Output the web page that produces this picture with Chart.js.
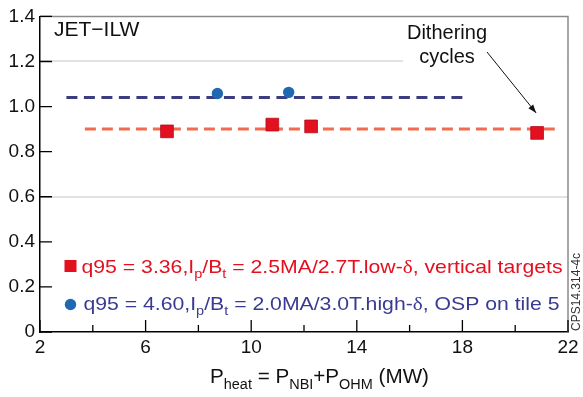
<!DOCTYPE html>
<html>
<head>
<meta charset="utf-8">
<script src="https://cdn.jsdelivr.net/npm/chart.js@4/dist/chart.umd.min.js"></script>
<style>
  html, body { margin: 0; padding: 0; background: #fff; }
  #wrap { width: 583px; height: 397px; }
</style>
</head>
<body>
<div id="wrap"><canvas id="chart" width="583" height="397"></canvas></div>
<script>
// values
const lowDeltaX = [6.81, 10.8, 12.27, 20.83];
const lowDeltaY = [0.89, 0.92, 0.912, 0.883];
const highDeltaX = [8.72, 11.42];
const highDeltaY = [1.058, 1.063];
const lowFitX = [3.7, 21.5];
const lowFitY = [0.9, 0.9];
const highFitX = [3.0, 18.05];
const highFitY = [1.04, 1.04];

const xLabelTicks = [2, 6, 10, 14, 18, 22];
const gridLevels = [0.6, 1.2];

const FONT = "'Liberation Sans', Arial, sans-serif";
const RED = "#e3101f";
const NAVY = "#3a3a94";
const BLUE = "#1f69b3";

const toPoints = (xs, ys) => xs.map((x, i) => ({ x: x, y: ys[i] }));

// text pieces: [text, kind] kind: n = normal, s = subscript, g = greek
const lowLabel = [["q95 = 3.36,I", "n"], ["p", "s"], ["/B", "n"], ["t", "s"],
  [" = 2.5MA/2.7T.low-", "n"], ["\u03b4", "g"], [", vertical targets", "n"]];
const highLabel = [["q95 = 4.60,I", "n"], ["p", "s"], ["/B", "n"], ["t", "s"],
  [" = 2.0MA/3.0T.high-", "n"], ["\u03b4", "g"], [", OSP on tile 5", "n"]];
const xTitle = [["P", "n"], ["heat", "s"], [" = P", "n"], ["NBI", "s"], ["+P", "n"], ["OHM", "s"], [" (MW)", "n"]];

function fontFor(kind, size) {
  if (kind === "s") return Math.round(size * 0.7) + "px " + FONT;
  if (kind === "g") return size + "px 'Liberation Serif', 'DejaVu Serif', serif";
  return size + "px " + FONT;
}
function richWidth(ctx, parts, size) {
  let w = 0;
  parts.forEach(p => {
    ctx.font = fontFor(p[1], size);
    w += ctx.measureText(p[0]).width;
  });
  return w;
}
// draws the pieces, stretched sideways to fill `width` when given
function drawRich(ctx, parts, x, y, size, color, width) {
  const natural = richWidth(ctx, parts, size);
  const sx = width ? width / natural : 1;
  ctx.save();
  ctx.translate(x, y);
  ctx.scale(sx, 1);
  ctx.fillStyle = color;
  ctx.textBaseline = "alphabetic";
  ctx.textAlign = "left";
  let cx = 0;
  parts.forEach(p => {
    ctx.font = fontFor(p[1], size);
    const dy = p[1] === "s" ? size * 0.28 : 0;
    ctx.fillText(p[0], cx, dy);
    cx += ctx.measureText(p[0]).width;
  });
  ctx.restore();
}

const decorations = {
  id: "decorations",
  afterDraw(chart) {
    const ctx = chart.ctx;
    const a = chart.chartArea;
    const xs = chart.scales.x, ys = chart.scales.y;
    ctx.save();

    // white box behind the annotation hides the grid line there
    ctx.fillStyle = "#fff";
    ctx.fillRect(403, 45, a.right - 404, 30);

    // top and right frame
    ctx.strokeStyle = "#8a8a8a";
    ctx.lineWidth = 1.5;
    ctx.beginPath();
    ctx.moveTo(a.left, a.top); ctx.lineTo(a.right, a.top); ctx.lineTo(a.right, a.bottom);
    ctx.stroke();

    // inward ticks
    ctx.strokeStyle = "#000";
    ctx.lineWidth = 1.3;
    ctx.beginPath();
    xs.ticks.forEach(t => {
      const px = xs.getPixelForValue(t.value);
      const len = xLabelTicks.includes(t.value) ? 12 : 7;
      ctx.moveTo(px, a.bottom); ctx.lineTo(px, a.bottom - len);
    });
    ys.ticks.forEach(t => {
      const py = ys.getPixelForValue(t.value);
      ctx.moveTo(a.left, py); ctx.lineTo(a.left + 12, py);
    });
    ctx.stroke();

    // panel label
    ctx.fillStyle = "#111";
    ctx.font = "21px " + FONT;
    ctx.textAlign = "left";
    ctx.textBaseline = "alphabetic";
    ctx.fillText("JET\u2212ILW", 54, 36);

    // annotation
    ctx.font = "20px " + FONT;
    ctx.textAlign = "center";
    ctx.fillText("Dithering", 447, 39);
    ctx.fillText("cycles", 447, 63);
    const tx = xs.getPixelForValue(lowDeltaX[3]) - 1, ty = ys.getPixelForValue(lowDeltaY[3]) - 20;
    ctx.strokeStyle = "#111";
    ctx.lineWidth = 1;
    ctx.beginPath();
    ctx.moveTo(487, 52); ctx.lineTo(tx, ty);
    ctx.stroke();
    const ang = Math.atan2(ty - 52, tx - 487);
    ctx.beginPath();
    ctx.moveTo(tx, ty);
    ctx.lineTo(tx - 9 * Math.cos(ang - 0.35), ty - 9 * Math.sin(ang - 0.35));
    ctx.lineTo(tx - 9 * Math.cos(ang + 0.35), ty - 9 * Math.sin(ang + 0.35));
    ctx.closePath();
    ctx.fillStyle = "#111";
    ctx.fill();

    // legend
    ctx.fillStyle = RED;
    ctx.fillRect(64.5, 260, 12, 12);
    drawRich(ctx, lowLabel, 81.5, 273, 19, RED, 481);
    ctx.fillStyle = BLUE;
    ctx.beginPath();
    ctx.arc(70.5, 304.5, 5.7, 0, Math.PI * 2);
    ctx.fill();
    drawRich(ctx, highLabel, 83.5, 310, 19, NAVY, 476);

    // x title
    drawRich(ctx, xTitle, 210, 383, 20, "#111", 219);

    // figure id
    ctx.save();
    ctx.translate(580, 331);
    ctx.rotate(-Math.PI / 2);
    ctx.font = "12px " + FONT;
    ctx.fillStyle = "#333";
    ctx.textAlign = "left";
    ctx.fillText("CPS14.314-4c", 0, 0);
    ctx.restore();

    ctx.restore();
  }
};

new Chart(document.getElementById("chart"), {
  type: "scatter",
  data: {
    datasets: [
      {
        label: "low-delta",
        data: toPoints(lowDeltaX, lowDeltaY),
        pointStyle: "rect",
        pointRadius: 9,
        backgroundColor: RED,
        borderColor: "#b50c18",
        borderWidth: 0.8
      },
      {
        label: "high-delta",
        data: toPoints(highDeltaX, highDeltaY),
        pointStyle: "circle",
        pointRadius: 5.7,
        backgroundColor: BLUE,
        borderColor: BLUE,
        borderWidth: 0
      },
      {
        label: "low-delta fit",
        data: toPoints(lowFitX, lowFitY),
        showLine: true,
        pointRadius: 0,
        borderColor: "#f26a4f",
        borderWidth: 3,
        borderDash: [11, 6]
      },
      {
        label: "high-delta fit",
        data: toPoints(highFitX, highFitY),
        showLine: true,
        pointRadius: 0,
        borderColor: "#3c3c80",
        borderWidth: 3,
        borderDash: [11, 6.5]
      }
    ]
  },
  options: {
    responsive: false,
    animation: false,
    layout: { padding: { top: 13, right: 15, left: 0, bottom: 0 } },
    plugins: { legend: { display: false }, tooltip: { enabled: false } },
    scales: {
      x: {
        type: "linear",
        min: 2,
        max: 22,
        afterFit: s => { s.height = 65; },
        ticks: {
          stepSize: 2,
          autoSkip: false,
          maxRotation: 0,
          padding: 4,
          color: "#111",
          font: { family: FONT, size: 19 },
          callback: v => (xLabelTicks.includes(v) ? String(v) : "")
        },
        grid: { display: false, drawTicks: false },
        border: { display: true, color: "#000", width: 1.5 }
      },
      y: {
        min: 0,
        max: 1.4,
        afterFit: s => { s.width = 40; },
        ticks: {
          stepSize: 0.2,
          padding: 5,
          color: "#111",
          font: { family: FONT, size: 19 },
          callback: v => (v === 0 ? "0" : v.toFixed(1))
        },
        grid: {
          drawTicks: false,
          lineWidth: 2,
          color: c => (gridLevels.some(g => Math.abs(g - c.tick.value) < 1e-6) ? "#e2e2e2" : "rgba(0,0,0,0)")
        },
        border: { display: true, color: "#000", width: 1.5 }
      }
    }
  },
  plugins: [decorations]
});
</script>
</body>
</html>
